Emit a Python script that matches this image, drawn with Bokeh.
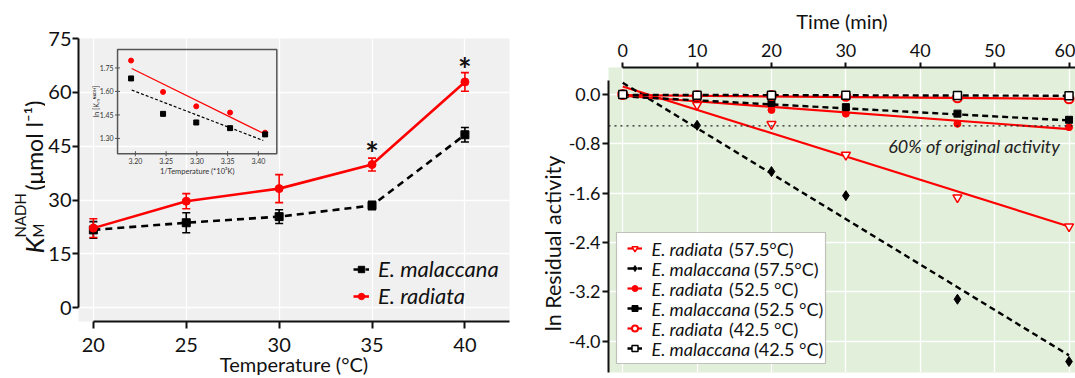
from math import pi
from bokeh.plotting import figure
from bokeh.models import (Range1d, Label, Legend, LegendItem, Whisker, ColumnDataSource,
                          FixedTicker, Span, BoxAnnotation, TeeHead, NumeralTickFormatter)
from bokeh.core.properties import value
from bokeh.layouts import row
from bokeh.embed import file_html
from bokeh.resources import INLINE

FONT = "Lato"
FV = value(FONT)

# ---------------- Left panel data ----------------
temps = [20, 25, 30, 35, 40]
km_mal = [21.7, 23.7, 25.4, 28.5, 48.2]
km_mal_err = [2.3, 2.8, 1.9, 1.2, 2.0]
km_rad = [22.2, 29.7, 33.2, 39.9, 62.9]
km_rad_err = [2.6, 2.1, 3.9, 1.8, 2.6]
sig_temps = [35, 40]
sig_y = [43.0, 66.5]
left_yticks = [0, 15, 30, 45, 60, 75]
left_xticks = [20, 25, 30, 35, 40]

# inset (Arrhenius-type plot)
inv_temp = [3.193, 3.245, 3.299, 3.354, 3.411]
logkm_rad = [1.797, 1.597, 1.505, 1.465, 1.337]
logkm_mal = [1.683, 1.457, 1.402, 1.366, 1.326]
inset_fit_x = [3.194, 3.408]
inset_fit_rad = [1.746, 1.333]
inset_fit_mal = [1.609, 1.287]
inset_xticks = [3.20, 3.25, 3.30, 3.35, 3.40]
inset_yticks = [1.30, 1.45, 1.60, 1.75]
inset_xlim = (3.171, 3.430)
inset_ylim = (1.203, 1.868)
inset_frac_x = (0.0906, 0.4601)   # inset box placement inside main frame
inset_frac_y = (0.593, 0.9614)

# ---------------- Right panel data ----------------
time_min = [0, 10, 20, 30, 45, 60]
rad_575 = [0.0, -0.17, -0.48, -0.98, -1.67, -2.14]
mal_575 = [0.0, -0.50, -1.25, -1.64, -3.32, -4.33]
rad_525 = [0.0, -0.05, -0.25, -0.31, -0.475, -0.53]
mal_525 = [0.0, -0.04, -0.135, -0.205, -0.31, -0.41]
rad_425 = [0.0, -0.02, -0.016, -0.03, -0.054, -0.07]
mal_425 = [0.0, -0.01, -0.01, -0.01, -0.016, -0.02]
fit_t = [0, 60]
fit_rad_575 = [0.13, -2.14]
fit_mal_575 = [0.19, -4.23]
fit_rad_525 = [-0.02, -0.56]
fit_mal_525 = [-0.03, -0.42]
fit_rad_425 = [-0.01, -0.07]
fit_mal_425 = [-0.005, -0.02]
threshold_ln = -0.51
right_xticks = [0, 10, 20, 30, 40, 50, 60]
right_yticks = [0.0, -0.8, -1.6, -2.4, -3.2, -4.0]
legend_species = ["E. radiata", "E. malaccana", "E. radiata", "E. malaccana", "E. radiata", "E. malaccana"]
legend_temps = ["(57.5°C)", "(57.5°C)", "(52.5 °C)", "(52.5 °C)", "(42.5 °C)", "(42.5 °C)"]

H = 378


def no_align(f):
    if "frame_align" in f.properties():
        f.frame_align = False


def style_axes(p, size):
    for ax in p.xaxis + p.yaxis:
        ax.axis_line_width = 2
        ax.axis_line_color = "#111111"
        ax.major_tick_line_width = 2
        ax.major_tick_line_color = "#111111"
        ax.major_tick_in = 0
        ax.minor_tick_line_color = None
        ax.major_label_text_font = FONT
        ax.major_label_text_font_size = size
        ax.major_label_text_color = "#111111"
        ax.axis_label_text_font = FONT
        ax.axis_label_text_font_style = "normal"
        ax.axis_label_text_font_size = "20px"
        ax.axis_label_text_color = "#111111"


def strip(width):
    s = figure(width=width, height=H, output_backend="svg", toolbar_location=None,
               x_range=Range1d(0, width), y_range=Range1d(0, H),
               x_axis_location=None, y_axis_location=None,
               min_border_left=0, min_border_right=0, min_border_top=0, min_border_bottom=0)
    s.outline_line_color = None
    s.grid.visible = False
    s.background_fill_color = "white"
    s.border_fill_color = "white"
    no_align(s)
    return s


# ======================= Y-LABEL STRIP (left) =======================
s1 = strip(45)
ylab = [("K", 33, 125, "26px", "italic"), ("M", 37.5, 141, "15px", "normal"),
        ("NADH", 19, 141, "15px", "normal"), ("(μmol l⁻¹)", 33, 188, "23px", "normal")]
for txt, xx, yy, fs, st in ylab:
    s1.text(x=[xx], y=[yy], text=[txt], angle=pi / 2, text_align="left", text_baseline="alphabetic",
            text_font=FV, text_font_size=fs, text_font_style=st, text_color="#111111")

# ======================= LEFT FIGURE =======================
p1 = figure(width=490, height=H, output_backend="svg", toolbar_location=None,
            x_range=Range1d(19.2, 42.4), y_range=Range1d(-3.8, 75.0),
            min_border_left=30, min_border_right=26, min_border_top=38, min_border_bottom=55)
no_align(p1)
p1.background_fill_color = "#f0f0f0"
p1.border_fill_color = "white"
p1.outline_line_color = None
p1.xaxis.ticker = FixedTicker(ticks=left_xticks)
p1.yaxis.ticker = FixedTicker(ticks=left_yticks)
p1.xgrid.ticker = FixedTicker(ticks=left_xticks)
p1.ygrid.ticker = FixedTicker(ticks=left_yticks)
p1.grid.grid_line_color = "white"
p1.grid.grid_line_width = 1.3
style_axes(p1, "20px")
p1.xaxis.bounds = (20, 42.4)
p1.yaxis.bounds = (0, 75)
p1.xaxis.major_tick_out = 7
p1.xaxis.major_label_standoff = 9
p1.yaxis.major_tick_out = 6
p1.yaxis.major_label_standoff = 1
p1.xaxis.axis_label = "Temperature (°C)"
p1.xaxis.axis_label_standoff = -3

for vals, errs, col in [(km_mal, km_mal_err, "black"), (km_rad, km_rad_err, "red")]:
    src = ColumnDataSource(dict(x=temps, lower=[v - e for v, e in zip(vals, errs)],
                                upper=[v + e for v, e in zip(vals, errs)]))
    w = Whisker(source=src, base="x", lower="lower", upper="upper", line_color=col, line_width=1.6,
                upper_head=TeeHead(size=8, line_color=col, line_width=1.6),
                lower_head=TeeHead(size=8, line_color=col, line_width=1.6))
    p1.add_layout(w)

l_mal = p1.line(temps, km_mal, line_color="black", line_width=2.6, line_dash="7 5")
s_mal = p1.scatter(temps, km_mal, marker="square", size=8, color="black")
l_rad = p1.line(temps, km_rad, line_color="red", line_width=2.6)
s_rad = p1.scatter(temps, km_rad, marker="circle", size=8, color="red")

p1.text(x=sig_temps, y=sig_y, text=["*", "*"], text_align="center", text_baseline="alphabetic",
        text_font=FV, text_font_size="32px", text_font_style="bold", text_color="#111111")

leg1 = Legend(items=[LegendItem(label="E. malaccana", renderers=[l_mal, s_mal]),
                     LegendItem(label="E. radiata", renderers=[l_rad, s_rad])],
              location=(275, 12), background_fill_alpha=0, border_line_alpha=0,
              label_text_font=FONT, label_text_font_style="italic", label_text_font_size="22px",
              label_text_color="#111111",
              glyph_width=16, glyph_height=20, label_height=20, spacing=0, padding=0, margin=0,
              label_standoff=9)
p1.add_layout(leg1, "center")


# inset drawn on extra ranges placed inside the main frame
def host_range(lims, frac):
    a, b = lims
    f0, f1 = frac
    span = (b - a) / (f1 - f0)
    start = a - f0 * span
    return Range1d(start, start + span)


p1.extra_x_ranges = {"ix": host_range(inset_xlim, inset_frac_x)}
p1.extra_y_ranges = {"iy": host_range(inset_ylim, inset_frac_y)}
ikw = dict(x_range_name="ix", y_range_name="iy")
p1.quad(left=[inset_xlim[0]], right=[inset_xlim[1]], bottom=[inset_ylim[0]], top=[inset_ylim[1]],
        fill_color="#f0f0f0", fill_alpha=0.0, line_color="#555555", line_width=1.5, **ikw)
p1.line(inset_fit_x, inset_fit_rad, line_color="red", line_width=1.2, **ikw)
p1.line(inset_fit_x, inset_fit_mal, line_color="black", line_width=1.2, line_dash="3 2", **ikw)
p1.scatter(inv_temp, logkm_rad, marker="circle", size=5, color="red", **ikw)
p1.scatter(inv_temp, logkm_mal, marker="square", size=5, color="black", **ikw)
p1.scatter(inset_xticks, [inset_ylim[0]] * len(inset_xticks), marker="dash", angle=pi / 2, size=5,
           line_color="#555555", **ikw)
p1.scatter([inset_xlim[0]] * len(inset_yticks), inset_yticks, marker="dash", size=5,
           line_color="#555555", **ikw)
p1.text(x=inset_xticks, y=[inset_ylim[0]] * len(inset_xticks), text=[f"{v:.2f}" for v in inset_xticks],
        text_align="center", text_baseline="top", y_offset=4, text_font=FV, text_font_size="7px",
        text_color="#333333", **ikw)
p1.text(x=[inset_xlim[0]] * len(inset_yticks), y=inset_yticks, text=[f"{v:.2f}" for v in inset_yticks],
        text_align="right", text_baseline="middle", x_offset=-4, text_font=FV, text_font_size="7px",
        text_color="#333333", **ikw)
p1.text(x=[(inset_xlim[0] + inset_xlim[1]) / 2], y=[inset_ylim[0]], text=["1/Temperature (*10³K)"],
        text_align="center", text_baseline="middle", y_offset=18, text_font=FV, text_font_size="7.5px",
        text_color="#333333", **ikw)
p1.text(x=[inset_xlim[0]], y=[(inset_ylim[0] + inset_ylim[1]) / 2], text=["ln [Kₘᴺᴬᴰᴴ]"],
        text_align="center", text_baseline="middle", x_offset=-22, angle=pi / 2, text_font=FV,
        text_font_size="7px", text_color="#333333", **ikw)

# ======================= Y-LABEL STRIP (right) =======================
s2 = strip(30)
s2.text(x=[17], y=[135], text=["ln Residual activity"], angle=pi / 2, text_align="center",
        text_baseline="middle", text_font=FV, text_font_size="21.5px", text_color="#111111")

# ======================= RIGHT FIGURE =======================
p2 = figure(width=510, height=H, output_backend="svg", toolbar_location=None,
            x_range=Range1d(-1.91, 60.87), y_range=Range1d(-4.508, 0.438), x_axis_location="above",
            min_border_left=41, min_border_right=0, min_border_top=67, min_border_bottom=6)
no_align(p2)
p2.background_fill_color = "#e2efda"
p2.border_fill_color = "white"
p2.outline_line_color = None
p2.xaxis.ticker = FixedTicker(ticks=right_xticks)
p2.yaxis.ticker = FixedTicker(ticks=right_yticks)
p2.xgrid.ticker = FixedTicker(ticks=right_xticks)
p2.ygrid.ticker = FixedTicker(ticks=right_yticks)
p2.yaxis.formatter = NumeralTickFormatter(format="0.0")
p2.grid.grid_line_color = "white"
p2.grid.grid_line_width = 1.3
style_axes(p2, "18px")
p2.xaxis.bounds = (0, 61)
p2.yaxis.bounds = (-4.508, 0.23)
p2.xaxis.major_tick_out = 5
p2.xaxis.major_label_standoff = 6
p2.yaxis.major_tick_out = 6
p2.yaxis.major_label_standoff = 2
p2.xaxis.axis_label = "Time (min)"
p2.xaxis.axis_label_standoff = 8

p2.add_layout(Span(location=threshold_ln, dimension="width", line_color="#222222", line_width=1.3,
                   line_dash="dotted"))

series = [
    (rad_575, fit_rad_575, "red", "solid", dict(marker="inverted_triangle", size=9, fill_color="white", line_color="red", line_width=1.5)),
    (mal_575, fit_mal_575, "black", "dashed", dict(marker="diamond", size=10, fill_color="black", line_color="black")),
    (rad_525, fit_rad_525, "red", "solid", dict(marker="circle", size=7, fill_color="red", line_color="red")),
    (mal_525, fit_mal_525, "black", "dashed", dict(marker="square", size=7, fill_color="black", line_color="black")),
    (rad_425, fit_rad_425, "red", "solid", dict(marker="circle", size=9, fill_color="white", line_color="red", line_width=2)),
    (mal_425, fit_mal_425, "black", "dashed", dict(marker="square", size=8, fill_color="white", line_color="black", line_width=1.5)),
]
items = []
for (vals, fit, col, dash, mk), sp in zip(series, legend_species):
    if dash == "dashed":
        lr = p2.line(fit_t, fit, line_color=col, line_width=2.4, line_dash="6 4")
    else:
        lr = p2.line(fit_t, fit, line_color=col, line_width=2.2)
    sr = p2.scatter(time_min, vals, **mk)
    items.append(LegendItem(label=" ", renderers=[lr, sr]))

# legend: white box, glyph samples from Bokeh's Legend, mixed italic/upright texts as labels
p2.add_layout(BoxAnnotation(left=8, right=217, bottom=9, top=140, left_units="screen",
                            right_units="screen", bottom_units="screen", top_units="screen",
                            fill_color="white", fill_alpha=1.0, line_color="#444444", line_width=1.2))
leg2 = Legend(items=items, location=(19, 13.7), background_fill_alpha=0, border_line_alpha=0,
              label_text_font=FONT, label_text_font_size="6px",
              glyph_width=15, glyph_height=20, label_height=10, spacing=0, padding=0, margin=0,
              label_standoff=0)
p2.add_layout(leg2, "center")
for i, (sp, tt) in enumerate(zip(legend_species, legend_temps)):
    yy = 123.7 - 20.0 * i
    p2.add_layout(Label(x=43, y=yy, x_units="screen", y_units="screen", text=sp,
                        text_align="left", text_baseline="middle", text_font=FONT,
                        text_font_size="18px", text_font_style="italic", text_color="#111111"))
    xx = 120.5 if sp == "E. radiata" else 145.5
    p2.add_layout(Label(x=xx, y=yy, x_units="screen", y_units="screen", text=tt,
                        text_align="left", text_baseline="middle", text_font=FONT,
                        text_font_size="18px", text_color="#111111"))

p2.add_layout(Label(x=35.7, y=-0.83, text="60% of original activity", text_align="left",
                    text_baseline="middle", text_font=FONT, text_font_size="18px",
                    text_font_style="italic", text_color="#222222"))

layout = row(s1, p1, s2, p2)
open("out.html", "w").write(file_html(layout, INLINE))
